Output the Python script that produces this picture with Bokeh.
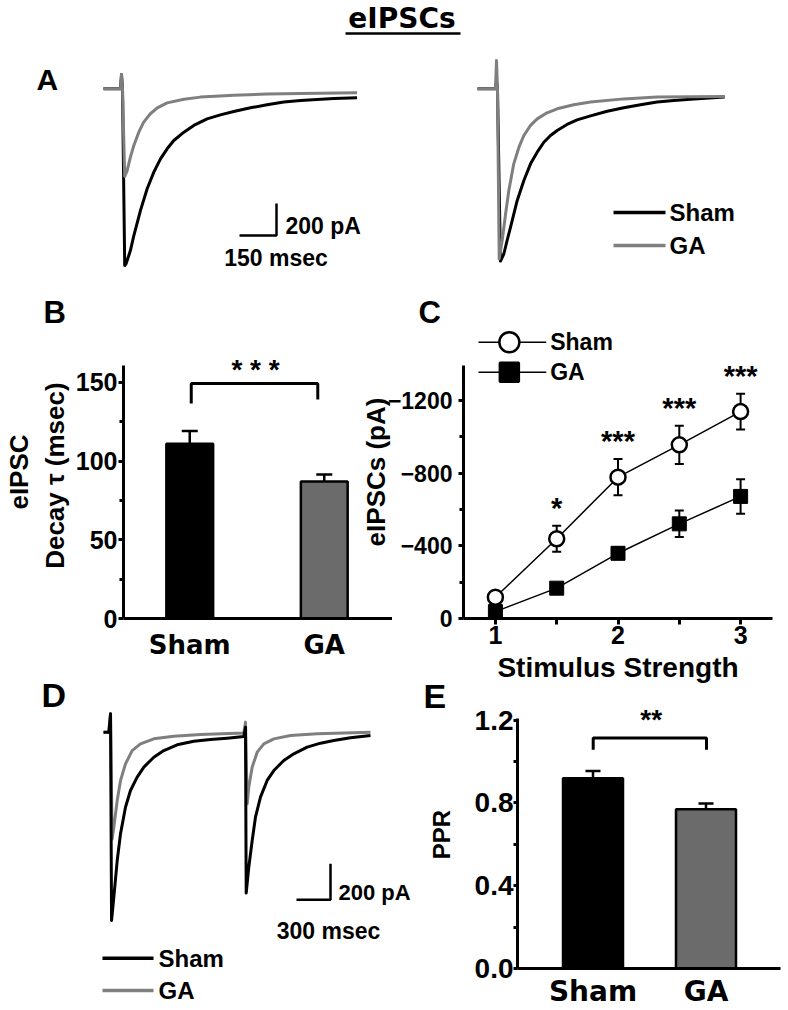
from bokeh.plotting import figure
from bokeh.models import Range1d, LinearAxis, FixedTicker, Whisker, TeeHead, ColumnDataSource, PrintfTickFormatter
from bokeh.layouts import column, row
from bokeh.embed import file_html
from bokeh.resources import INLINE
from bokeh.core.properties import value

# ---------------- data ----------------
groups = ["Sham", "GA"]
decay_tau = [111, 87]            # msec (panel B)
decay_tau_sem = [8, 4.5]
ppr = [0.92, 0.77]               # paired-pulse ratio (panel E)
ppr_sem = [0.035, 0.028]

stim_strength = [1, 1.5, 2, 2.5, 3]                 # panel C
sham_amp = [-117, -439, -778, -956, -1139]          # pA
sham_amp_sem = [15, 72, 100, 105, 98]
ga_amp = [-38, -167, -359, -521, -672]
ga_amp_sem = [10, 14, 33, 73, 95]
amp_stars = ["", "*", "***", "***", "***"]

# panel A, left example traces (ms, pA)
a1_sham_t = [0, 69, 73, 77, 86, 91, 96, 109, 123, 150, 177, 204, 231, 258, 285, 326, 366, 420, 474, 528, 596, 663, 731, 799, 866, 934, 1028]
a1_sham_i = [0, 0, 89, 0, -1104, -1095, -1073, -1011, -917, -760, -625, -521, -438, -375, -323, -271, -229, -188, -163, -142, -119, -100, -83, -73, -67, -61, -56]
a1_ga_t = [0, 69, 73, 77, 86, 96, 109, 123, 143, 163, 190, 218, 258, 326, 393, 528, 663, 799, 1028]
a1_ga_i = [0, 0, 89, 0, -548, -511, -427, -354, -271, -208, -156, -119, -88, -65, -52, -40, -33, -29, -25]
# panel A, right example traces (ms, pA)
a2_sham_t = [0, 73, 77, 81, 93, 107, 120, 134, 161, 188, 215, 242, 269, 296, 323, 363, 404, 458, 526, 593, 661, 728, 796, 863, 1002]
a2_sham_i = [0, 0, 52, 0, -1077, -1031, -948, -865, -698, -573, -469, -396, -334, -292, -261, -223, -194, -169, -140, -119, -100, -83, -73, -65, -52]
a2_ga_t = [0, 73, 77, 81, 88, 100, 114, 127, 147, 168, 188, 215, 242, 282, 323, 390, 458, 593, 728, 1002]
a2_ga_i = [0, 0, 177, 0, -1063, -948, -781, -636, -469, -365, -292, -229, -188, -150, -125, -100, -83, -63, -52, -48]
# panel D, paired-pulse traces (ms, pA)
d_sham_t = [0, 47, 62, 71, 91, 121, 150, 194, 238, 297, 356, 444, 532, 650, 797, 944, 1091, 1238, 1253, 1259, 1282, 1312, 1341, 1385, 1444, 1503, 1591, 1679, 1797, 1915, 2032, 2179, 2356]
d_sham_i = [0, 0, 102, -1046, -917, -713, -565, -417, -324, -250, -194, -139, -102, -70, -50, -41, -33, -24, 28, -894, -750, -602, -472, -361, -268, -213, -157, -120, -83, -61, -46, -31, -18]
d_ga_t = [0, 47, 62, 76, 91, 121, 150, 194, 253, 326, 444, 620, 856, 1238, 1253, 1268, 1282, 1312, 1356, 1415, 1503, 1650, 1885, 2356]
d_ga_i = [0, 0, 102, -593, -528, -380, -269, -176, -102, -65, -37, -22, -13, -4, 56, -398, -306, -194, -111, -65, -37, -18, -9, 0]

# ---------------- styles ----------------
FONT = "Liberation Sans"
WIDE = "DejaVu Sans"
GRAY = "#7f7f7f"
BAR_GRAY = "#6b6b6b"
common = dict(toolbar_location=None, output_backend="svg")


def clear(p):
    p.frame_align = False
    p.outline_line_color = None
    p.grid.visible = False
    p.background_fill_color = None
    p.border_fill_color = None


def blank_fig(w, h, xr, yr):
    p = figure(width=w, height=h, x_range=xr, y_range=yr, x_axis_type=None,
               y_axis_type=None, min_border=0, **common)
    clear(p)
    return p


def txt(p, x, y, s, size, font=FONT, align="left", **kw):
    p.text(x=x, y=y, text=s, text_font=value(font), text_font_style="bold",
           text_font_size=size, text_align=align, text_baseline="middle",
           text_color="black", **kw)


def style_axis(a, lab_size, lab_font=FONT):
    a.axis_line_width = 3
    a.axis_line_color = "black"
    a.major_tick_line_width = 3
    a.minor_tick_line_width = 3
    a.major_tick_in = 0
    a.minor_tick_in = 0
    a.major_label_text_font = lab_font
    a.major_label_text_font_style = "bold"
    a.major_label_text_font_size = lab_size
    a.major_label_text_color = "black"
    a.axis_label_text_font = FONT
    a.axis_label_text_font_style = "bold"
    a.axis_label_text_color = "black"


def panel_letter(p, s, size, offset, standoff):
    p.title.text = s
    p.title.text_font = FONT
    p.title.text_font_style = "bold"
    p.title.text_font_size = size
    p.title.text_color = "black"
    p.title.align = "left"
    p.title.offset = offset
    p.title.standoff = standoff


# ---------------- panel A (with page title) ----------------
A_PX_MS = 37 / 150.0     # px per msec (150 msec scale bar)
A_PX_PA = 32 / 200.0     # px per pA (200 pA scale bar)
A_X0, A_Y0 = 103, 88.3
def ax(px): return (px - A_X0) / A_PX_MS
def ay(py): return -(py - A_Y0) / A_PX_PA

pa = blank_fig(788, 290, Range1d(ax(0), ax(788)), Range1d(ay(290), ay(0)))
a2_off = ax(477)
pa.line(a1_sham_t, a1_sham_i, line_color="black", line_width=3, line_join="round")
pa.line(a1_ga_t, a1_ga_i, line_color=GRAY, line_width=3, line_join="round")
pa.line([t + a2_off for t in a2_sham_t], a2_sham_i, line_color="black", line_width=3, line_join="round")
pa.line([t + a2_off for t in a2_ga_t], a2_ga_i, line_color=GRAY, line_width=3, line_join="round")
# page title
txt(pa, [ax(401.5)], [ay(18.3)], ["eIPSCs"], "28px", font=WIDE, align="center")
pa.line([ax(345), ax(460)], [ay(33), ay(33)], line_color="black", line_width=2.5)
txt(pa, [ax(36)], [ay(79)], ["A"], "30px")
# scale bar
sb_x, sb_y = ax(239), ay(235)
pa.line([sb_x, sb_x + 150, sb_x + 150], [sb_y, sb_y, sb_y + 200], line_color="black", line_width=2.5)
txt(pa, [ax(285)], [ay(225)], ["200 pA"], "23px")
txt(pa, [ax(275.5)], [ay(257)], ["150 msec"], "23px", align="center")
# legend
for name, col, py in [("Sham", "black", 212), ("GA", GRAY, 245)]:
    pa.line([ax(613), ax(665)], [ay(py), ay(py)], line_color=col, line_width=3.5)
    txt(pa, [ax(669)], [ay(py)], [name], "24px")

# ---------------- panel B ----------------
def bx(px): return 1 + (px - 188.5) / 135.0
def by(py): return (618 - py) / 1.575

pb = figure(width=392, height=400, x_range=Range1d(bx(122), bx(392)), y_range=Range1d(by(618), by(325)),
            min_border_left=122, min_border_right=0, min_border_top=35, min_border_bottom=72, **common)
clear(pb)
srcb = ColumnDataSource(dict(x=[1, 2], top=decay_tau, hi=[v + e for v, e in zip(decay_tau, decay_tau_sem)],
                             fill=["black", BAR_GRAY]))
pb.add_layout(Whisker(source=srcb, base="x", lower="top", upper="hi", line_width=2.5, line_color="black",
                      upper_head=TeeHead(size=16, line_width=2.5, line_color="black"), lower_head=None))
pb.vbar(x="x", top="top", bottom=0, width=0.348, source=srcb, fill_color="fill", line_color="black", line_width=2.5)
pb.line([bx(190), bx(190), bx(317), bx(317)], [by(403), by(383), by(383), by(399)], line_color="black", line_width=3)
txt(pb, [bx(254.5)], [by(383)], ["* * *"], "28px", align="center", y_offset=-14)
yb = pb.yaxis[0]
style_axis(yb, "25px")
yb.ticker = FixedTicker(ticks=[0, 50, 100, 150], minor_ticks=[25, 75, 125])
yb.bounds = (0, by(365))
yb.major_tick_out = 5
yb.minor_tick_out = 4
yb.major_label_standoff = 1
yb.axis_label = "Decay τ  (msec)"
yb.axis_label_text_font_size = "26px"
yb.axis_label_standoff = 3
ext = LinearAxis(ticker=FixedTicker(ticks=[]), axis_label="eIPSC", bounds=(0, 146))
style_axis(ext, "25px")
ext.axis_line_color = None
ext.major_tick_out = 0
ext.minor_tick_out = 0
ext.major_label_standoff = 0
ext.axis_label_text_font_size = "26px"
ext.axis_label_standoff = 3
pb.add_layout(ext, "left")
xb = pb.xaxis[0]
style_axis(xb, "26px", lab_font=WIDE)
xb.ticker = FixedTicker(ticks=[1, 2])
xb.major_label_overrides = {1: groups[0], 2: groups[1]}
xb.major_tick_line_color = None
xb.major_tick_out = 0
xb.major_label_standoff = 11
panel_letter(pb, "B", "31px", -80, -9)

# ---------------- panel C ----------------
C_PY = 218 / 1200.0
def cx(px): return 1 + (px - 494) / 123.0
def cy(py): return -(618 - py) / C_PY

pc = figure(width=431, height=400, x_range=Range1d(cx(462), cx(772)), y_range=Range1d(cy(618), cy(325)),
            min_border_left=105, min_border_right=16, min_border_top=35, min_border_bottom=72, **common)
clear(pc)
pc.margin = (0, 0, 0, -35)
for amp, sem in [(sham_amp, sham_amp_sem), (ga_amp, ga_amp_sem)]:
    s = ColumnDataSource(dict(x=stim_strength, lo=[a - e for a, e in zip(amp, sem)], hi=[a + e for a, e in zip(amp, sem)]))
    pc.add_layout(Whisker(source=s, base="x", lower="lo", upper="hi", line_width=2, line_color="black",
                          upper_head=TeeHead(size=9, line_width=2, line_color="black"),
                          lower_head=TeeHead(size=9, line_width=2, line_color="black")))
pc.line(stim_strength, sham_amp, line_color="black", line_width=1.5)
pc.line(stim_strength, ga_amp, line_color="black", line_width=1.5)
pc.scatter(stim_strength, sham_amp, marker="circle", size=15, fill_color="white", line_color="black", line_width=2.5)
pc.scatter(stim_strength, ga_amp, marker="square", size=14, fill_color="black", line_color="black")
txt(pc, stim_strength, [a - e for a, e in zip(sham_amp, sham_amp_sem)], amp_stars, "29px", align="center", y_offset=-18)
for name, mk, fill, py in [("Sham", "circle", "white", 341.7), ("GA", "square", "black", 371.7)]:
    pc.line([cx(477), cx(545)], [cy(py), cy(py)], line_color="black", line_width=1.5)
    pc.scatter([cx(508)], [cy(py)], marker=mk, size=20 if mk == "circle" else 19, fill_color=fill,
               line_color="black", line_width=2.5)
    txt(pc, [cx(549)], [cy(py)], [name], "23px")
yc = pc.yaxis[0]
style_axis(yc, "23px")
yc.ticker = FixedTicker(ticks=[0, -400, -800, -1200], minor_ticks=[-200, -600, -1000])
yc.bounds = (cy(365), 0)
yc.major_tick_out = 5
yc.minor_tick_out = 4
yc.major_label_standoff = 6
yc.axis_label = "eIPSCs (pA)"
yc.axis_label_text_font_size = "26px"
yc.axis_label_standoff = -6
xc = pc.xaxis[0]
style_axis(xc, "25px")
xc.ticker = FixedTicker(ticks=[1, 2, 3], minor_ticks=[1.5, 2.5])
xc.major_tick_out = 6
xc.minor_tick_out = 6
xc.major_label_standoff = 1
xc.axis_label = "Stimulus Strength"
xc.axis_label_text_font_size = "28px"
xc.axis_label_standoff = 5
panel_letter(pc, "C", "31px", 417 - 462, -9)

# ---------------- panel D ----------------
D_PX_MS = 34 / 300.0
D_PX_PA = 36 / 200.0
def dx(px): return (px - 103) / D_PX_MS
def dy(py): return -(py - 731.7) / D_PX_PA

pd = blank_fig(420, 340, Range1d(dx(0), dx(420)), Range1d(dy(1010), dy(670)))
pd.line(d_ga_t, d_ga_i, line_color=GRAY, line_width=3, line_join="round")
pd.line(d_sham_t, d_sham_i, line_color="black", line_width=3, line_join="round")
txt(pd, [dx(41)], [dy(694)], ["D"], "34px")
sbx, sby = dx(296), dy(899.3)
pd.line([sbx, sbx + 300, sbx + 300], [sby, sby, sby + 200], line_color="black", line_width=2.5)
txt(pd, [dx(338)], [dy(891.7)], ["200 pA"], "22px")
txt(pd, [dx(328)], [dy(930)], ["300 msec"], "23px", align="center")
for name, col, py in [("Sham", "black", 957.7), ("GA", GRAY, 990)]:
    pd.line([dx(102), dx(153)], [dy(py), dy(py)], line_color=col, line_width=3.5)
    txt(pd, [dx(158)], [dy(py)], [name], "24px")

# ---------------- panel E ----------------
E_BOTTOM = 972
def ex(px): return 1 + (px - 592.5) / 113.0
def ey(py): return (E_BOTTOM - py) / 210.0

pe = figure(width=368, height=340, x_range=Range1d(ex(517), ex(780)), y_range=Range1d(0, ey(700)),
            min_border_left=97, min_border_right=8, min_border_top=30, min_border_bottom=38, **common)
clear(pe)
srce = ColumnDataSource(dict(x=[1, 2], top=ppr, hi=[v + e for v, e in zip(ppr, ppr_sem)], fill=["black", BAR_GRAY]))
pe.add_layout(Whisker(source=srce, base="x", lower="top", upper="hi", line_width=2.5, line_color="black",
                      upper_head=TeeHead(size=15, line_width=2.5, line_color="black"), lower_head=None))
pe.vbar(x="x", top="top", bottom=0, width=0.531, source=srce, fill_color="fill", line_color="black", line_width=2.5)
pe.line([ex(592.7), ex(592.7), ex(706), ex(706)], [ey(750), ey(738), ey(738), ey(750)], line_color="black", line_width=3)
txt(pe, [ex(650.7)], [ey(738)], ["**"], "28px", align="center", y_offset=-18)
ye = pe.yaxis[0]
style_axis(ye, "28px")
ye.ticker = FixedTicker(ticks=[0, 0.4, 0.8, 1.2], minor_ticks=[0.2, 0.6, 1.0])
ye.formatter = PrintfTickFormatter(format="%.1f")
ye.bounds = (0, ey(718))
ye.major_tick_out = 4
ye.minor_tick_out = 4
ye.major_label_standoff = 0
ye.axis_label = "PPR"
ye.axis_label_text_font_size = "24px"
ye.axis_label_standoff = 17
xe = pe.xaxis[0]
style_axis(xe, "28px", lab_font=WIDE)
xe.ticker = FixedTicker(ticks=[1, 2])
xe.major_label_overrides = {1: groups[0], 2: groups[1]}
xe.major_tick_line_color = None
xe.major_tick_out = 0
xe.major_label_standoff = 6
panel_letter(pe, "E", "34px", 423 - 517, -28)

bottom_row = row(pd, pe)
bottom_row.margin = (-20, 0, 0, 0)
layout = column(pa, row(pb, pc), bottom_row)
open("out.html", "w").write(file_html(layout, INLINE))
